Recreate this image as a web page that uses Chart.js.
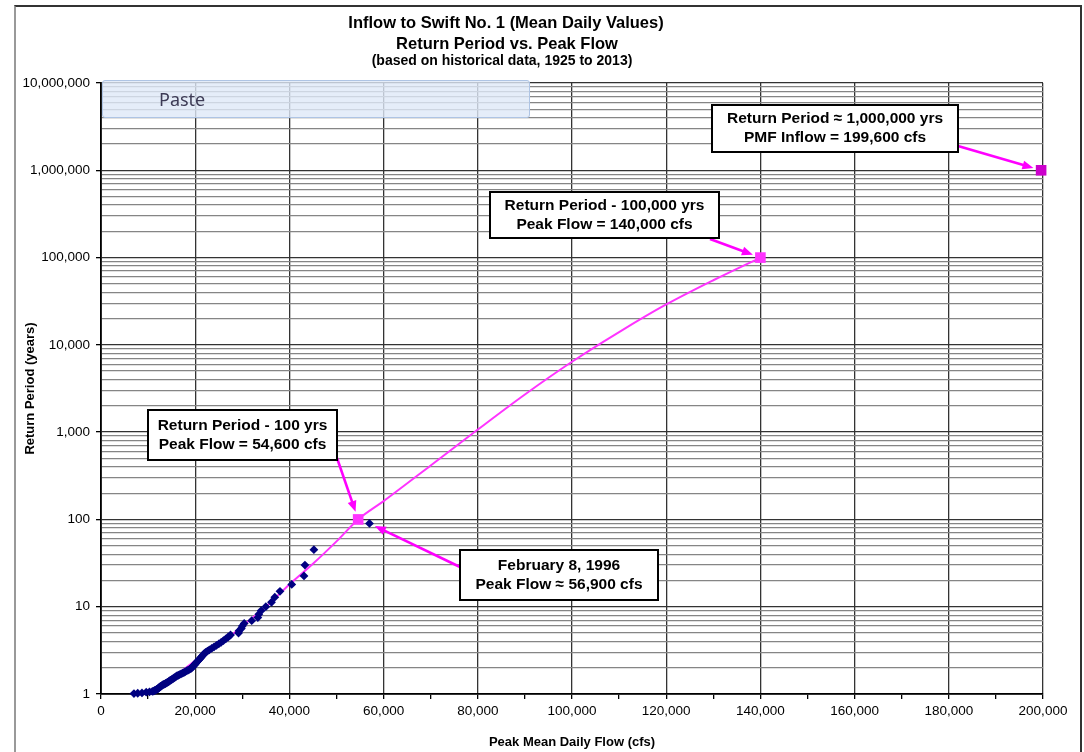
<!DOCTYPE html>
<html>
<head>
<meta charset="utf-8">
<title>Return Period vs. Peak Flow</title>
<script src="https://cdn.jsdelivr.net/npm/chart.js@4.4.1/dist/chart.umd.min.js"></script>
<style>
  html, body { margin: 0; padding: 0; background: #fff; }
  #wrap { position: relative; width: 1084px; height: 752px; overflow: hidden; }
  #frame { position: absolute; left: 14px; top: 5px; width: 1068px; height: 800px; box-sizing: border-box;
           border-top: 2px solid #333; border-left: 2px solid #999; border-right: 2px solid #333; }
  canvas { position: absolute; left: 0; top: 0; }
  #paste { position: absolute; left: 102px; top: 80px; width: 428px; height: 38px; box-sizing: border-box;
           background: rgba(222, 233, 248, 0.8); border: 1px solid #aec4e4; border-radius: 3px;
           font-family: "Noto Sans", "Open Sans", sans-serif; font-size: 18px; color: #3d3b55;
           line-height: 36px; padding-left: 56px; }
</style>
</head>
<body>
<div id="wrap">
  <div id="frame"></div>
  <canvas id="chart" width="1084" height="752"></canvas>
  <div id="paste">Paste</div>
</div>
<script>
// historical peaks (cfs) and their return periods (years)
const histFlow = [57000, 45200, 43300, 43100, 40500, 38000, 36900, 36200, 35000, 34000,
  33500, 33300, 32000, 30400, 30000, 29800, 29300, 29200, 27500, 27000,
  26500, 26000, 25500, 25000, 24500, 24000, 23500, 23000, 22600, 22200,
  21900, 21700, 21500, 21300, 21100, 20900, 20700, 20500, 20300, 20100,
  20000, 19800, 19600, 19450, 19300, 19100, 18800, 18500, 18200, 17900,
  17600, 17300, 17000, 16700, 16400, 16100, 15900, 15700, 15500, 15300,
  15100, 14900, 14700, 14500, 14300, 14100, 13900, 13700, 13500, 13300,
  13100, 12900, 12800, 12600, 12500, 12300, 12200, 12100, 12000, 11800,
  11600, 11400, 11200, 10900, 10300, 9600, 8700, 7800, 7000];
const histT = [90, 45, 30, 22.5, 18, 15, 12.86, 11.25, 10, 9,
  8.18, 7.5, 6.92, 6.43, 6, 5.63, 5.29, 5, 4.74, 4.5,
  4.29, 4.09, 3.91, 3.75, 3.6, 3.46, 3.33, 3.21, 3.10, 3,
  2.90, 2.81, 2.73, 2.65, 2.57, 2.5, 2.43, 2.37, 2.31, 2.25,
  2.20, 2.14, 2.09, 2.05, 2, 1.96, 1.91, 1.88, 1.84, 1.8,
  1.76, 1.73, 1.70, 1.67, 1.64, 1.61, 1.58, 1.55, 1.53, 1.5,
  1.48, 1.45, 1.43, 1.41, 1.38, 1.36, 1.34, 1.32, 1.30, 1.29,
  1.27, 1.25, 1.23, 1.22, 1.2, 1.18, 1.17, 1.15, 1.14, 1.13,
  1.11, 1.10, 1.08, 1.07, 1.06, 1.05, 1.03, 1.02, 1.01];

// fitted frequency curve
const curveFlow = [10000, 15000, 20000, 25000, 30000, 35000, 40000, 45000, 50000, 54600,
  60000, 70000, 80000, 90000, 100000, 110000, 120000, 130000, 140000];
const curveT = [1.0, 1.5, 2.4, 3.6, 6, 10, 18, 31, 56, 100,
  162, 415, 1070, 2700, 6400, 14000, 29000, 55000, 100000];

// highlighted points
const keyFlow = [54600, 140000];
const keyT = [100, 100000];
const pmfFlow = [199600];
const pmfT = [1000000];

// axis ticks
const yDecades = [1, 10, 100, 1000, 10000, 100000, 1000000, 10000000];
const xMajorStep = 20000;
const xMinorStep = 10000;

const FONT = "'Liberation Sans', Arial, sans-serif";
Chart.defaults.font.family = FONT;

const toPts = (xs, ys) => xs.map((x, i) => ({ x: x, y: ys[i] }));

const yTickValues = [];
yDecades.forEach((d, i) => {
  yTickValues.push(d);
  if (i < yDecades.length - 1) {
    for (let k = 2; k <= 9; k++) yTickValues.push(d * k);
  }
});
const isDecade = v => yDecades.includes(v);

const titlePlugin = {
  id: 'bigTitle',
  afterDraw(chart) {
    const ctx = chart.ctx;
    ctx.save();
    ctx.fillStyle = '#000';
    ctx.textAlign = 'center';
    ctx.textBaseline = 'middle';
    ctx.font = 'bold 16.5px ' + FONT;
    ctx.fillText('Inflow to Swift No. 1 (Mean Daily Values)', 506, 23);
    ctx.fillText('Return Period vs. Peak Flow', 507, 44);
    ctx.font = 'bold 14px ' + FONT;
    ctx.fillText('(based on historical data, 1925 to 2013)', 502, 61);
    ctx.restore();
  }
};

// call-out boxes: box in pixels, arrow runs from the box to a data point
const callouts = [
  { lines: ['Return Period - 100 yrs', 'Peak Flow = 54,600 cfs'], box: [148, 410, 189, 50],
    from: [337, 458], to: () => [keyFlow[0], keyT[0]], gap: 8 },
  { lines: ['February 8, 1996', 'Peak Flow \u2248 56,900 cfs'], box: [460, 550, 198, 50],
    from: [460, 567], to: () => [histFlow[0], histT[0]], gap: 6 },
  { lines: ['Return Period - 100,000 yrs', 'Peak Flow = 140,000 cfs'], box: [490, 192, 229, 46],
    from: [710, 239], to: () => [keyFlow[1], keyT[1]], gap: 8 },
  { lines: ['Return Period \u2248 1,000,000 yrs', 'PMF Inflow = 199,600 cfs'], box: [712, 105, 246, 47],
    from: [958, 146], to: () => [pmfFlow[0], pmfT[0]], gap: 8 }
];

const calloutPlugin = {
  id: 'callouts',
  afterDatasetsDraw(chart) {
    const ctx = chart.ctx;
    const xs = chart.scales.x, ys = chart.scales.y;
    ctx.save();
    callouts.forEach(c => {
      const [vx, vy] = c.to();
      const tx = xs.getPixelForValue(vx), ty = ys.getPixelForValue(vy);
      const [fx, fy] = c.from;
      const dx = tx - fx, dy = ty - fy, len = Math.hypot(dx, dy);
      const ux = dx / len, uy = dy / len;
      const ex = tx - ux * c.gap, ey = ty - uy * c.gap;
      ctx.strokeStyle = '#ff00ff';
      ctx.fillStyle = '#ff00ff';
      ctx.lineWidth = 2.6;
      ctx.beginPath();
      ctx.moveTo(fx, fy);
      ctx.lineTo(ex - ux * 6, ey - uy * 6);
      ctx.stroke();
      ctx.beginPath();
      ctx.moveTo(ex, ey);
      ctx.lineTo(ex - ux * 11 - uy * 4.5, ey - uy * 11 + ux * 4.5);
      ctx.lineTo(ex - ux * 11 + uy * 4.5, ey - uy * 11 - ux * 4.5);
      ctx.closePath();
      ctx.fill();

      const [bx, by, bw, bh] = c.box;
      ctx.fillStyle = '#fff';
      ctx.fillRect(bx, by, bw, bh);
      ctx.strokeStyle = '#000';
      ctx.lineWidth = 2;
      ctx.strokeRect(bx, by, bw, bh);
      ctx.fillStyle = '#000';
      ctx.font = 'bold 15.5px ' + FONT;
      ctx.textAlign = 'center';
      ctx.textBaseline = 'middle';
      ctx.fillText(c.lines[0], bx + bw / 2, by + bh / 2 - 9.5);
      ctx.fillText(c.lines[1], bx + bw / 2, by + bh / 2 + 9.5);
    });
    ctx.restore();
  }
};

new Chart(document.getElementById('chart'), {
  type: 'scatter',
  data: {
    datasets: [
      {
        label: 'PMF',
        data: toPts(pmfFlow, pmfT),
        pointStyle: 'rect',
        pointRadius: 7.5,
        backgroundColor: '#cc00cc',
        borderColor: '#cc00cc',
        borderWidth: 0,
        clip: false,
        order: 0
      },
      {
        label: 'Design points',
        data: toPts(keyFlow, keyT),
        pointStyle: 'rect',
        pointRadius: 7.5,
        backgroundColor: '#ff33ff',
        borderColor: '#ff33ff',
        borderWidth: 0,
        clip: false,
        order: 1
      },
      {
        label: 'Historical',
        data: toPts(histFlow, histT),
        pointStyle: 'rectRot',
        pointRadius: 4.4,
        backgroundColor: '#000080',
        borderColor: '#000080',
        borderWidth: 0,
        clip: false,
        order: 2
      },
      {
        label: 'Curve',
        data: toPts(curveFlow, curveT),
        showLine: true,
        pointRadius: 0,
        borderColor: '#ff33ff',
        borderWidth: 2,
        cubicInterpolationMode: 'monotone',
        order: 3
      }
    ]
  },
  options: {
    responsive: false,
    animation: false,
    layout: { padding: { left: 0, right: 41, top: 83, bottom: 0 } },
    plugins: {
      legend: { display: false },
      tooltip: { enabled: false },
      title: { display: false }
    },
    scales: {
      x: {
        type: 'linear',
        min: 0,
        max: 200000,
        afterFit: s => { s.height = 58; },
        ticks: {
          stepSize: xMinorStep,
          autoSkip: false,
          maxRotation: 0,
          padding: 4,
          color: '#000',
          font: { size: 13.5 },
          callback: v => (v % xMajorStep === 0 ? v.toLocaleString('en-US') : '')
        },
        grid: {
          color: c => (c.tick && c.tick.value % xMajorStep === 0 ? '#333' : 'rgba(0,0,0,0)'),
          tickColor: '#000',
          tickLength: 5,
          lineWidth: 1.3
        },
        border: { color: '#000', width: 1.8 },
        title: {
          display: true,
          text: 'Peak Mean Daily Flow (cfs)',
          color: '#000',
          font: { size: 13, weight: 'bold' },
          padding: { top: 0, bottom: 2 }
        }
      },
      y: {
        type: 'logarithmic',
        min: 1,
        max: 10000000,
        afterFit: s => { s.width = 101; },
        afterBuildTicks: s => { s.ticks = yTickValues.map(v => ({ value: v })); },
        ticks: {
          autoSkip: false,
          padding: 6,
          color: '#000',
          font: { size: 13.5 },
          callback: v => (isDecade(v) ? v.toLocaleString('en-US') : '')
        },
        grid: {
          color: c => (c.tick && isDecade(c.tick.value) ? '#333' : '#858585'),
          tickColor: c => (c.tick && isDecade(c.tick.value) ? '#000' : 'rgba(0,0,0,0)'),
          tickLength: 5,
          lineWidth: 1.3
        },
        border: { color: '#000', width: 1.8 },
        title: {
          display: true,
          text: 'Return Period (years)',
          color: '#000',
          font: { size: 13, weight: 'bold' },
          padding: { top: 23, bottom: 0 }
        }
      }
    }
  },
  plugins: [titlePlugin, calloutPlugin]
});
</script>
</body>
</html>
